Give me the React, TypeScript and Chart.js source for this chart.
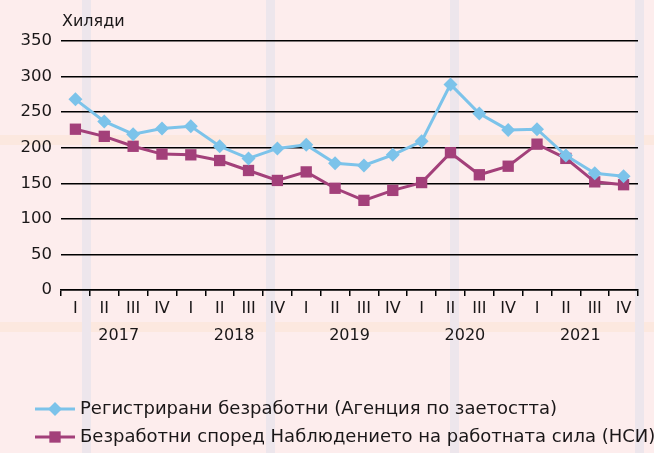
import React, { useEffect, useRef } from "react";
import { Chart, registerables } from "chart.js";

Chart.register(...registerables);

const quarterLabels = ["I", "II", "III", "IV", "I", "II", "III", "IV", "I", "II", "III", "IV", "I", "II", "III", "IV", "I", "II", "III", "IV"];
const yearLabels = ["2017", "2018", "2019", "2020", "2021"];
const registered = [268, 237, 219, 227, 230, 202, 185, 199, 204, 178, 175, 190, 209, 289, 248, 225, 226, 189, 164, 160];
const lfs = [226, 216, 202, 191, 190, 182, 168, 154, 166, 143, 126, 140, 151, 193, 162, 174, 205, 185, 152, 148];
const seriesNames = [
  "Регистрирани безработни (Агенция по заетостта)",
  "Безработни според Наблюдението на работната сила (НСИ)",
];
const unitLabel = "Хиляди";

const BLUE = "#7cc3ea";
const PURPLE = "#a3407a";
const TEXT = "#1a1718";
const FONT = "'DejaVu Sans', sans-serif";

const bgPlugin = {
  id: "bg",
  beforeDraw(chart: any) {
    const { ctx, width, height } = chart;
    ctx.save();
    ctx.fillStyle = "#fdeded";
    ctx.fillRect(0, 0, width, height);
    ctx.fillStyle = "#fce8df";
    ctx.fillRect(0, 135, width, 10);
    ctx.fillRect(0, 322, width, 10);
    ctx.fillStyle = "#ede6ec";
    [82, 266, 450, 635].forEach((x) => ctx.fillRect(x, 0, 9, height));
    ctx.restore();
  },
};

const decorPlugin = {
  id: "decor",
  afterDraw(chart: any) {
    const { ctx } = chart;
    ctx.save();
    ctx.fillStyle = TEXT;
    ctx.font = `16px ${FONT}`;
    ctx.textBaseline = "middle";
    ctx.textAlign = "left";
    ctx.fillText(unitLabel, 62, 22);

    const items = [
      { y: 409, color: BLUE, style: "rectRot", r: 7, name: seriesNames[0] },
      { y: 437, color: PURPLE, style: "rect", r: 8, name: seriesNames[1] },
    ];
    items.forEach((it) => {
      ctx.strokeStyle = it.color;
      ctx.lineWidth = 3;
      ctx.beginPath();
      ctx.moveTo(35, it.y);
      ctx.lineTo(75, it.y);
      ctx.stroke();
      ctx.fillStyle = it.color;
      if (it.style === "rect") {
        const s = it.r * Math.SQRT1_2;
        ctx.fillRect(55 - s, it.y - s, 2 * s, 2 * s);
      } else {
        ctx.beginPath();
        ctx.moveTo(55, it.y - it.r);
        ctx.lineTo(55 + it.r, it.y);
        ctx.lineTo(55, it.y + it.r);
        ctx.lineTo(55 - it.r, it.y);
        ctx.closePath();
        ctx.fill();
      }
      ctx.fillStyle = TEXT;
      ctx.font = `18px ${FONT}`;
      ctx.fillText(it.name, 80, it.y);
    });
    ctx.restore();
  },
};

export default function App() {
  const ref = useRef<HTMLCanvasElement>(null);
  useEffect(() => {
    if (!ref.current) return;
    const chart = new Chart(ref.current, {
      type: "line",
      data: {
        labels: quarterLabels,
        datasets: [
          {
            label: seriesNames[0],
            data: registered,
            borderColor: BLUE,
            backgroundColor: BLUE,
            borderWidth: 3,
            pointStyle: "rectRot",
            pointRadius: 7,
            pointBorderWidth: 0,
            tension: 0,
          },
          {
            label: seriesNames[1],
            data: lfs,
            borderColor: PURPLE,
            backgroundColor: PURPLE,
            borderWidth: 3,
            pointStyle: "rect",
            pointRadius: 8,
            pointBorderWidth: 0,
            tension: 0,
          },
        ],
      },
      options: {
        animation: false,
        responsive: false,
        devicePixelRatio: 1,
        layout: { padding: { left: 8, right: 16, top: 41, bottom: 105 } },
        plugins: { legend: { display: false }, tooltip: { enabled: false } },
        scales: {
          y: {
            min: 0,
            max: 350,
            ticks: { stepSize: 50, color: TEXT, font: { family: FONT, size: 16.5 }, padding: 9 },
            grid: { color: "#000", lineWidth: 1.5, drawTicks: false },
            border: { display: false },
            afterFit: (s: any) => {
              s.width = 53;
            },
          },
          x: {
            offset: true,
            weight: 0,
            grid: { offset: true, drawOnChartArea: false, color: "#000", lineWidth: 1.5, tickLength: 6 },
            border: { display: true, color: "#000", width: 1.5 },
            ticks: { color: TEXT, font: { family: FONT, size: 16 }, padding: 3, maxRotation: 0, autoSkip: false },
            afterFit: (s: any) => {
              s.height = 30;
            },
          },
          x2: {
            type: "category",
            labels: yearLabels,
            position: "bottom",
            offset: true,
            weight: 1,
            grid: { display: false, drawTicks: false },
            border: { display: false },
            ticks: { color: TEXT, font: { family: FONT, size: 16 }, padding: 6, maxRotation: 0, autoSkip: false },
            afterFit: (s: any) => {
              s.height = 28;
            },
          },
        },
      } as any,
      plugins: [bgPlugin, decorPlugin],
    });
    return () => chart.destroy();
  }, []);
  return (
    <div style={{ position: "absolute", left: 0, top: 0, width: 654, height: 453 }}>
      <canvas ref={ref} width={654} height={453} />
    </div>
  );
}
